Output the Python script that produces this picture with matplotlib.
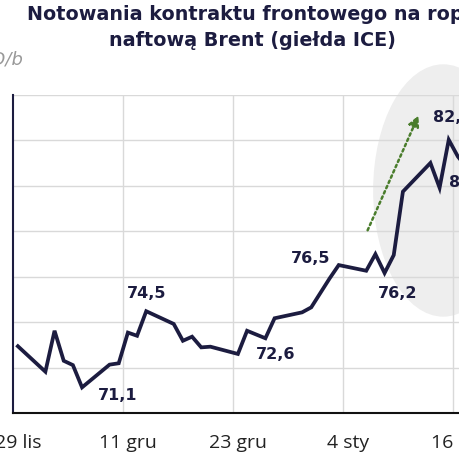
import pandas as pd
import matplotlib.pyplot as plt
from matplotlib.patches import Ellipse

# Brent front-month closes, USD/b
dates = ["2024-11-29", "2024-12-02", "2024-12-03", "2024-12-04", "2024-12-05",
         "2024-12-06", "2024-12-09", "2024-12-10", "2024-12-11", "2024-12-12",
         "2024-12-13", "2024-12-16", "2024-12-17", "2024-12-18", "2024-12-19",
         "2024-12-20", "2024-12-23", "2024-12-24", "2024-12-26", "2024-12-27",
         "2024-12-30", "2024-12-31", "2025-01-02", "2025-01-03", "2025-01-06",
         "2025-01-07", "2025-01-08", "2025-01-09", "2025-01-10", "2025-01-13",
         "2025-01-14", "2025-01-15", "2025-01-16", "2025-01-17"]
prices = [72.95, 71.83, 73.63, 72.31, 72.12, 71.14, 72.14, 72.20, 73.55, 73.41,
          74.49, 73.93, 73.19, 73.37, 72.90, 72.93, 72.61, 73.63, 73.30, 74.18,
          74.44, 74.66, 75.93, 76.52, 76.27, 77.00, 76.17, 76.96, 79.75, 81.01,
          79.92, 82.03, 81.29, 80.79]

tick_dates = ["2024-11-29", "2024-12-11", "2024-12-23", "2025-01-04", "2025-01-16"]
tick_labels = ["29 lis", "11 gru", "23 gru", "4 sty", "16 sty"]

# annotated points: date, text
label_dates = ["2024-12-06", "2024-12-13", "2024-12-23", "2025-01-03",
               "2025-01-08", "2025-01-15", "2025-01-16"]
label_texts = ["71,1", "74,5", "72,6", "76,5", "76,2", "82,0", "81,3"]

NAVY = "#1c1c40"
GREEN = "#4a7d2c"


def main():
    start = pd.Timestamp(dates[0])
    x = [(pd.Timestamp(d) - start).days for d in dates]
    xt = [(pd.Timestamp(d) - start).days for d in tick_dates]
    xl = [(pd.Timestamp(d) - start).days for d in label_dates]
    yl = [prices[dates.index(d)] for d in label_dates]

    plt.rcParams["font.family"] = ["DejaVu Sans"]
    fig = plt.figure(figsize=(4.6, 4.6), dpi=100)
    ax = fig.add_axes([13.3 / 460, 45.7 / 460, 458 / 460, 318.3 / 460])

    ax.set_xlim(-0.5, 49.46)
    ax.set_ylim(70, 84)

    # highlight ellipse behind the january jump
    ax.add_patch(Ellipse((46.4, 79.8), 15.3, 11.1, facecolor="#eeeeee",
                         edgecolor="none", zorder=0, clip_on=False))

    ax.set_yticks(range(70, 85, 2))
    ax.yaxis.grid(True, color="#d9d9d9", lw=1, zorder=1)
    for t in xt[1:]:
        ax.axvline(t - 0.5, color="#d9d9d9", lw=1, zorder=1)
    ax.tick_params(axis="y", left=False, labelleft=False)

    ax.set_xticks(xt)
    ax.set_xticklabels(tick_labels, fontfamily=["Open Sans", "DejaVu Sans"],
                       fontsize=14, color="#222222")
    ax.tick_params(axis="x", length=0, pad=14)

    for s in ["top", "right"]:
        ax.spines[s].set_visible(False)
    ax.spines["left"].set_color(NAVY)
    ax.spines["left"].set_linewidth(1.5)
    ax.spines["bottom"].set_color("#111111")
    ax.spines["bottom"].set_linewidth(1.5)

    ax.plot(x, prices, color=NAVY, lw=2.7, solid_joinstyle="miter", zorder=3)

    # label offsets in points from the data point
    offsets = [(25.4, -5.2), (0, 13.2), (27.5, 0), (-20.5, 5.5), (9.4, -13.7),
               (-11.2, 16.5), (-6.5, -17.9)]
    aligns = ["center", "center", "center", "center", "center", "left", "left"]
    for xi, yi, txt, off, ha in zip(xl, yl, label_texts, offsets, aligns):
        ax.annotate(txt, (xi, yi), xytext=off, textcoords="offset points",
                    ha=ha, va="center", fontsize=11.5, fontweight="bold",
                    color=NAVY, zorder=4, annotation_clip=False)

    ax.annotate("", xy=(43.7, 83.1), xytext=(38.15, 78.05),
                arrowprops=dict(arrowstyle="-|>", color=GREEN, lw=1.8,
                                linestyle=(0, (1, 1.3)), mutation_scale=16,
                                shrinkA=0, shrinkB=0),
                zorder=4, annotation_clip=False)

    fig.text(252 / 460, 1 - 14 / 460, "Notowania kontraktu frontowego na ropę",
             ha="center", va="center", fontsize=13.8, fontweight="bold", color=NAVY)
    fig.text(252 / 460, 1 - 41 / 460, "naftową Brent (giełda ICE)",
             ha="center", va="center", fontsize=13.8, fontweight="bold", color=NAVY)
    fig.text(24 / 460, 1 - 60 / 460, "USD/b", ha="right", va="center",
             fontsize=13, style="italic", color="#999999")

    fig.savefig("out.png", dpi=100)


if __name__ == "__main__":
    main()
